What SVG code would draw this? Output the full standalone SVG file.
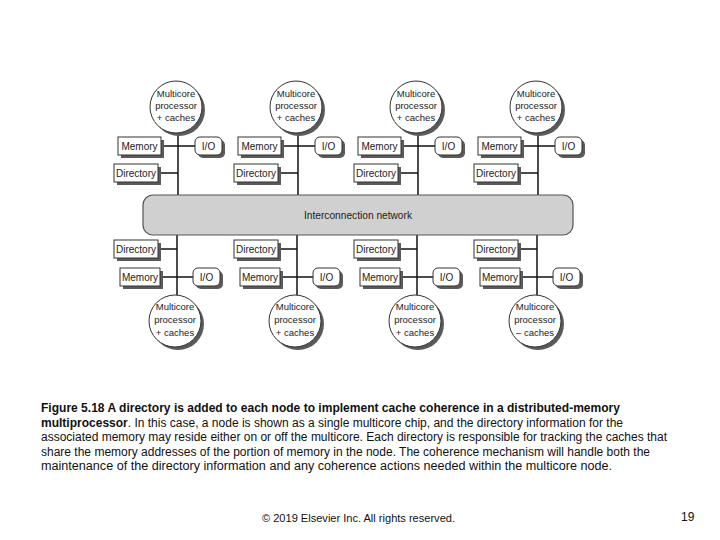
<svg xmlns="http://www.w3.org/2000/svg" width="720" height="540" viewBox="0 0 720 540">
<defs>
<style>
.t{font-family:"Liberation Sans",Arial,sans-serif;font-size:10px;fill:#222;text-anchor:middle}
.c{font-size:9.5px}
.box{fill:#fff;stroke:#333;stroke-width:1}
.sh{fill:#5a5a5a}
.ln{stroke:#111;stroke-width:1.5;fill:none}
.net{fill:#d0d0d0;stroke:#555;stroke-width:1.2}
.cap{font-family:"Liberation Sans",Arial,sans-serif;font-size:12.5px;fill:#111}
.b{font-weight:bold}
.ft{font-family:"Liberation Sans",Arial,sans-serif;font-size:11px;fill:#111}
</style>
<g id="topcol">
<circle class="sh" cx="179" cy="110" r="26"/>
<circle class="box" cx="176" cy="107" r="26"/>
<text class="t c" x="176" y="97">Multicore</text>
<text class="t c" x="176" y="109">processor</text>
<text class="t c" x="176" y="121">+ caches</text>
<rect class="sh" x="121" y="140" width="43" height="18"/>
<rect class="box" x="118" y="137" width="43" height="18"/>
<text class="t" x="139.5" y="149.5">Memory</text>
<rect class="sh" x="198" y="140" width="27" height="18" rx="5"/>
<rect class="box" x="195" y="137" width="27" height="18" rx="5"/>
<text class="t" x="208.5" y="149.5">I/O</text>
<rect class="sh" x="117" y="167" width="44" height="18"/>
<rect class="box" x="114" y="164" width="44" height="18"/>
<text class="t" x="136" y="176.5">Directory</text>
</g>
<g id="botcol">
<rect class="sh" x="117" y="243" width="44" height="18"/>
<rect class="box" x="114" y="240" width="44" height="18"/>
<text class="t" x="136" y="252.5">Directory</text>
<rect class="sh" x="123" y="271" width="40" height="18"/>
<rect class="box" x="120" y="268" width="40" height="18"/>
<text class="t" x="140" y="280.5">Memory</text>
<rect class="sh" x="196" y="271" width="27" height="18" rx="5"/>
<rect class="box" x="193" y="268" width="27" height="18" rx="5"/>
<text class="t" x="206.5" y="280.5">I/O</text>
<circle class="sh" cx="178" cy="324" r="26"/>
<circle class="box" cx="175" cy="321" r="26"/>
</g>
</defs>
<g id="connectors">
<line class="ln" x1="178" y1="133" x2="178" y2="195"/>
<line class="ln" x1="298" y1="133" x2="298" y2="195"/>
<line class="ln" x1="418" y1="133" x2="418" y2="195"/>
<line class="ln" x1="538" y1="133" x2="538" y2="195"/>
<line class="ln" x1="161" y1="146" x2="195" y2="146"/>
<line class="ln" x1="281" y1="146" x2="315" y2="146"/>
<line class="ln" x1="401" y1="146" x2="435" y2="146"/>
<line class="ln" x1="521" y1="146" x2="555" y2="146"/>
<line class="ln" x1="158" y1="173" x2="178" y2="173"/>
<line class="ln" x1="278" y1="173" x2="298" y2="173"/>
<line class="ln" x1="398" y1="173" x2="418" y2="173"/>
<line class="ln" x1="518" y1="173" x2="538" y2="173"/>
<line class="ln" x1="177" y1="235" x2="177" y2="296"/>
<line class="ln" x1="297" y1="235" x2="297" y2="296"/>
<line class="ln" x1="417" y1="235" x2="417" y2="296"/>
<line class="ln" x1="537" y1="235" x2="537" y2="296"/>
<line class="ln" x1="158" y1="249" x2="177" y2="249"/>
<line class="ln" x1="278" y1="249" x2="297" y2="249"/>
<line class="ln" x1="398" y1="249" x2="417" y2="249"/>
<line class="ln" x1="518" y1="249" x2="537" y2="249"/>
<line class="ln" x1="160" y1="277" x2="193" y2="277"/>
<line class="ln" x1="280" y1="277" x2="313" y2="277"/>
<line class="ln" x1="400" y1="277" x2="433" y2="277"/>
<line class="ln" x1="520" y1="277" x2="553" y2="277"/>
</g>
<g id="network">
<rect class="net" x="143" y="195" width="430" height="40" rx="10"/>
<text class="t" x="358" y="219" textLength="108" lengthAdjust="spacingAndGlyphs">Interconnection network</text>
</g>
<g id="node1-top"><use href="#topcol"/></g>
<g id="node2-top"><use href="#topcol" transform="translate(120,0)"/></g>
<g id="node3-top"><use href="#topcol" transform="translate(240,0)"/></g>
<g id="node4-top"><use href="#topcol" transform="translate(360,0)"/></g>
<g id="node1-bottom"><use href="#botcol"/>
<text class="t c" x="175" y="310">Multicore</text><text class="t c" x="175" y="323">processor</text><text class="t c" x="175" y="336">+ caches</text></g>
<g id="node2-bottom"><use href="#botcol" transform="translate(120,0)"/>
<text class="t c" x="295" y="310">Multicore</text><text class="t c" x="295" y="323">processor</text><text class="t c" x="295" y="336">+ caches</text></g>
<g id="node3-bottom"><use href="#botcol" transform="translate(240,0)"/>
<text class="t c" x="415" y="310">Multicore</text><text class="t c" x="415" y="323">processor</text><text class="t c" x="415" y="336">+ caches</text></g>
<g id="node4-bottom"><use href="#botcol" transform="translate(360,0)"/>
<text class="t c" x="535" y="310">Multicore</text><text class="t c" x="535" y="323">processor</text><text class="t c" x="535" y="336">– caches</text></g>
<g id="caption">
<text class="cap b" x="41" y="412" textLength="579" lengthAdjust="spacingAndGlyphs">Figure 5.18 A directory is added to each node to implement cache coherence in a distributed-memory</text>
<text class="cap" x="41" y="426.5" textLength="582" lengthAdjust="spacingAndGlyphs"><tspan class="b">multiprocessor</tspan>. In this case, a node is shown as a single multicore chip, and the directory information for the</text>
<text class="cap" x="41" y="441" textLength="626" lengthAdjust="spacingAndGlyphs">associated memory may reside either on or off the multicore. Each directory is responsible for tracking the caches that</text>
<text class="cap" x="41" y="455.5" textLength="609" lengthAdjust="spacingAndGlyphs">share the memory addresses of the portion of memory in the node. The coherence mechanism will handle both the</text>
<text class="cap" x="41" y="470" textLength="571" lengthAdjust="spacingAndGlyphs">maintenance of the directory information and any coherence actions needed within the multicore node.</text>
</g>
<g id="footer">
<text class="ft" x="262" y="522" textLength="193" lengthAdjust="spacingAndGlyphs">© 2019 Elsevier Inc. All rights reserved.</text>
<text class="ft" x="681" y="521" style="font-size:12px">19</text>
</g>
</svg>
